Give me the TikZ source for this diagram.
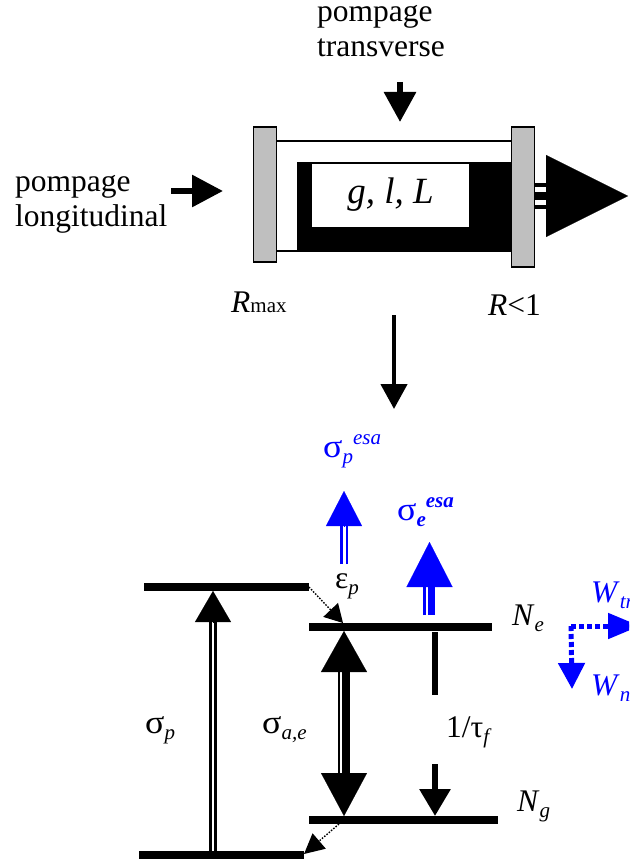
\documentclass[tikz,border=0pt]{standalone}
\usepackage{fontspec}
\setmainfont{Liberation Serif}
\usepackage{xcolor}
\definecolor{mirrorgray}{HTML}{BFBFBF}
\definecolor{esablue}{HTML}{0000FF}
\usetikzlibrary{arrows.meta, positioning, calc}
\newcommand{\txtsize}{\fontsize{31.5}{35}\selectfont}
\newcommand{\lowsub}[1]{\raisebox{-6pt}{\fontsize{21}{21}\selectfont\itshape #1}}
\newcommand{\upsup}[1]{\raisebox{13pt}{\fontsize{21}{21}\selectfont\itshape #1}}
\newcommand{\sgm}{\scalebox{1.14}[1.05]{σ}}

\begin{document}
\begin{tikzpicture}[
        x=1pt, y=-1pt,
        mirror/.style={draw=black, line width=1.5pt, fill=mirrorgray, inner sep=0pt, outer sep=0pt, minimum width=23pt},
        level/.style={fill=black, inner sep=0pt, outer sep=0pt, minimum height=8pt},
        txt/.style={font=\txtsize, inner sep=0pt, anchor=base west, align=left},
        bluetxt/.style={txt, text=esablue},
        shaft/.style={draw=black, line width=5pt},
        wline/.style={draw=esablue, line width=5pt, dash pattern=on 5pt off 3pt},
        relax/.style={line width=1.4pt, dash pattern=on 1.5pt off 1.5pt}
    ]
        \useasboundingbox (0,0) rectangle (629,861);
        \clip (0,0) rectangle (629,861);

        % Laser cavity
        \node[fill=black, inner sep=0pt, outer sep=0pt, minimum width=214pt, minimum height=90pt] (medium) at (404,207) {};
        \node[fill=white, inner sep=0pt, outer sep=0pt, minimum width=157pt, minimum height=64pt, font=\fontsize{37}{40}\selectfont\itshape] (gain) at (390.5,195) {g, l, L};
        \draw[line width=1.5pt] (gain.north west) -- (gain.north east);
        \node[mirror, minimum height=135pt] (rmax) at (265,194.5) {};
        \node[mirror, minimum height=140pt] (roc) at (523,197) {};
        \draw[line width=1.8pt] ([yshift=53.5pt]rmax.east) -- ([yshift=56pt]roc.west);
        \draw[line width=1.8pt] ([yshift=-56.5pt]rmax.east) -- (medium.south west |- 0,251);

        % Pump arrows
        \node[txt] (pumptop) at (317,57) {pompage\\transverse};
        \node[txt] (pumpleft) at (15,226) {pompage\\longitudinal};
        \coordinate (topstart) at (400,82);
        \coordinate (topend) at (400,122);
        \coordinate (leftstart) at (171,191);
        \coordinate (leftend) at (223,191);
        \draw[line width=6pt, -{Triangle[length=30pt,width=31pt]}] (topstart) -- (topend);
        \draw[line width=6pt, -{Triangle[length=31pt,width=31pt]}] (leftstart) -- (leftend);

        % Output beam
        \coordinate (outbase) at (546,196);
        \coordinate (outtip) at (628,196);
        \foreach \dy/\bw in {12/4, 1/8, -10/4}
            \draw[line width=\bw pt] ([yshift=\dy pt]roc.east) -- ([yshift=\dy pt]roc.east -| outbase);
        \draw[line width=0.1pt, -{Triangle[length=82pt,width=82pt]}] (outbase) -- (outtip);

        \node[txt] (rmaxlab) at (231,312) {\textit{R}\fontsize{21}{21}\selectfont max};
        \node[txt] (roclab) at (488,315) {\textit{R}<1};

        % Link to the level scheme
        \coordinate (linkstart) at (394,315);
        \coordinate (linkend) at (394,409);
        \draw[line width=4.5pt, -{Triangle[length=25pt,width=26pt]}] (linkstart) -- (linkend);

        % Energy levels
        \node[level, minimum width=165pt] (pumpup) at (226.5,587) {};
        \node[level, minimum width=165pt] (pumpdown) at (221.5,855) {};
        \node[level, minimum width=183pt] (ne) at (400.5,627) {};
        \node[level, minimum width=189pt] (ng) at (403.5,820) {};

        % Pump transition
        \coordinate (spbase) at (213,622);
        \draw[line width=2.6pt] ([xshift=-2.7pt]spbase) -- ([xshift=-2.7pt]spbase |- pumpdown.north);
        \draw[line width=2.6pt] ([xshift=2.7pt]spbase) -- ([xshift=2.7pt]spbase |- pumpdown.north);
        \draw[line width=0.1pt, -{Triangle[length=31pt,width=36pt]}] (spbase) -- (spbase |- pumpup.south);

        % Laser transition
        \coordinate (aeup) at (344,672);
        \coordinate (aedown) at (344,774);
        \draw[line width=1.6pt] ([xshift=-5.2pt]aeup) -- ([xshift=-5.2pt]aedown);
        \draw[line width=7.5pt] ([xshift=2.2pt]aeup) -- ([xshift=2.2pt]aedown);
        \draw[line width=0.1pt, -{Triangle[length=41pt,width=46pt]}] (aeup) -- (aeup |- ne.south);
        \draw[line width=0.1pt, -{Triangle[length=43pt,width=46pt]}] (aedown) -- (aedown |- ng.north);

        % Fluorescence
        \coordinate (flstart) at (435,632);
        \coordinate (flstop) at (435,695);
        \coordinate (flrestart) at (435,764);
        \draw[shaft, line width=6pt] (flstart) -- (flstop);
        \draw[line width=6pt, -{Triangle[length=27pt,width=30pt]}] (flrestart) -- (flrestart |- ng.north);

        % Non radiative relaxations
        \coordinate (netip) at (343,623);
        \coordinate (ngstart) at (339,824);
        \coordinate (downtip) at (304,854);
        \draw[relax, -{Triangle[length=18pt,width=20pt]}] (pumpup.east) -- (netip);
        \draw[relax, -{Triangle[length=20pt,width=20pt]}] (ngstart) -- (downtip);

        % Excited state absorption
        \coordinate (esapbase) at (344,526);
        \coordinate (esaptip) at (344,491);
        \coordinate (esapstart) at (344,564);
        \draw[esablue, line width=2.6pt] ([xshift=-2.8pt]esapstart) -- ([xshift=-2.8pt]esapbase);
        \draw[esablue, line width=2.6pt] ([xshift=2.8pt]esapstart) -- ([xshift=2.8pt]esapbase);
        \draw[esablue, line width=0.1pt, -{Triangle[length=35pt,width=36pt]}] (esapbase) -- (esaptip);

        \coordinate (esaebase) at (429.5,587);
        \coordinate (esaetip) at (429.5,542);
        \coordinate (esaestart) at (429.5,615);
        \draw[esablue, line width=3pt] ([xshift=-5pt]esaestart) -- ([xshift=-5pt]esaebase);
        \draw[esablue, line width=7pt] ([xshift=2pt]esaestart) -- ([xshift=2pt]esaebase);
        \draw[esablue, line width=0.1pt, -{Triangle[length=45pt,width=46pt]}] (esaebase) -- (esaetip);

        % Transfer losses
        \coordinate (wcorner) at (571,626);
        \coordinate (wtrtip) at (640,626);
        \coordinate (wnrtip) at (572,689);
        \draw[wline, -{Triangle[length=32pt,width=25pt]}] (wcorner) -- (wtrtip);
        \draw[wline, -{Triangle[length=26pt,width=26pt]}] (wcorner) -- (wnrtip);

        % Labels
        \node[bluetxt] (sigmaesap) at (323,457) {\sgm\lowsub{p}\upsup{esa}};
        \node[bluetxt] (sigmaesae) at (397,520) {\sgm\lowsub{\textbf{e}}\upsup{\textbf{esa}}};
        \node[txt] (epsp) at (335,588) {ε\lowsub{p}};
        \node[txt] (nelab) at (512,625) {\textit{N}\lowsub{e}};
        \node[txt] (nglab) at (517,811) {\textit{N}\lowsub{g}};
        \node[bluetxt] (wtrlab) at (591,602) {\textit{W}\lowsub{tr}};
        \node[bluetxt] (wnrlab) at (591,695) {\textit{W}\lowsub{nr}};
        \node[txt] (sigmap) at (145,733) {\sgm\lowsub{p}};
        \node[txt] (sigmaae) at (262,733) {\sgm\lowsub{a,e}};
        \node[txt] (taulab) at (446,737) {1/τ\lowsub{f}};
    \end{tikzpicture}
\end{document}
